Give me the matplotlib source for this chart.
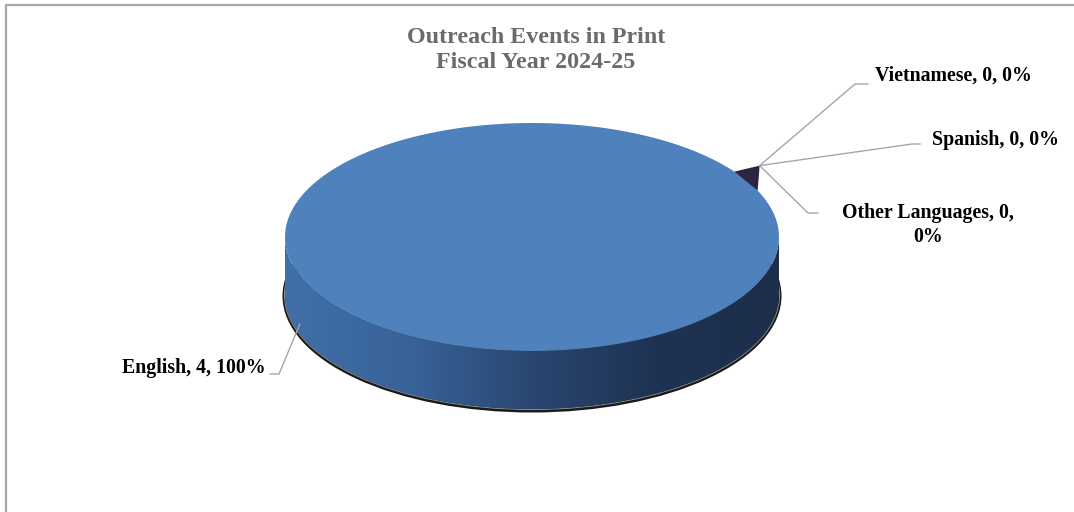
import matplotlib.pyplot as plt
import numpy as np
from matplotlib.patches import Polygon, Ellipse
from matplotlib.colors import LinearSegmentedColormap

# data
labels = ["English", "Spanish", "Vietnamese", "Other Languages"]
values = [4, 0, 0, 0]
title = "Outreach Events in Print\nFiscal Year 2024-25"

total = sum(values)
pcts = [v / total * 100 for v in values]

# geometry in pixel units (axes spans the whole figure)
W, H = 1074, 512
cx, cy = 532, 237
rx, ry = 247, 114
depth = 58
start_deg = 24  # angle where the first slice starts (counter-clockwise, screen up)

fig = plt.figure(figsize=(W / 100, H / 100), dpi=100)
ax = fig.add_axes([0, 0, 1, 1])
ax.set_xlim(0, W)
ax.set_ylim(H, 0)
ax.axis("off")

# chart frame (left and top edges visible)
ax.plot([6, 6, W + 5], [H + 5, 5, 5], color="#a6a6a6", lw=1.6, zorder=1)

def rim(t, dy=0.0):
    return cx + rx * np.cos(t), cy - ry * np.sin(t) + dy

# shadow beneath the pie
ax.add_patch(Ellipse((cx, cy + depth + 1), 2 * rx + 5, 2 * ry + 5,
                     facecolor="#1a1a1a", edgecolor="none", zorder=2))
ax.add_patch(Ellipse((cx, cy + depth), 2 * rx + 1, 2 * ry + 1,
                     facecolor="none", edgecolor="#8a8a8a", lw=0.8, zorder=2.5))

# side wall with horizontal gradient
t = np.linspace(np.pi, 2 * np.pi, 300)
ux, uy = rim(t)
lx, ly = rim(t[::-1], depth)
side = Polygon(np.column_stack([np.r_[ux, lx], np.r_[uy, ly]]), closed=True,
               facecolor="none", edgecolor="none", zorder=3)
ax.add_patch(side)
cmap = LinearSegmentedColormap.from_list("side", ["#416fa8", "#38639a", "#2a4670", "#1e3353", "#1c2e4a"])
grad = np.linspace(0, 1, 256).reshape(1, -1)
img = ax.imshow(grad, cmap=cmap, extent=[cx - rx, cx + rx, cy + ry + depth + 2, cy - 2],
                aspect="auto", zorder=3, interpolation="bicubic")
img.set_clip_path(side)

# top face (slices)
fracs = np.array(values) / total
angles = start_deg + np.r_[0, np.cumsum(fracs)] * 360
top_colors = ["#4f81bd", "#c0504d", "#9bbb59", "#8064a2"]
for i, v in enumerate(values):
    if v <= 0:
        continue
    a = np.radians(np.linspace(angles[i], angles[i + 1], 400))
    px, py = rim(a)
    ax.add_patch(Polygon(np.column_stack([np.r_[cx, px], np.r_[cy, py]]), closed=True,
                         facecolor=top_colors[i], edgecolor="none", zorder=4))

# cut face of the slice poking out above the rim
a_hi = np.array(rim(np.radians(start_deg + 11)))
a_lo = np.array(rim(np.radians(start_deg)))
apex = np.array([a_lo[0] + 2, a_hi[1] - 6])
ax.add_patch(Polygon([a_hi, apex, a_lo], closed=True,
                     facecolor="#2c2440", edgecolor="none", zorder=5))

# labels with leader lines
lc = "#a6a6a6"
font = dict(family="Liberation Serif", weight="bold", fontsize=14.3, color="black")

# English
ex, ey = rim(np.radians(200), 48)
ax.plot([270, 279, ex], [374, 374, ey], color=lc, lw=1, zorder=6)
ax.text(266, 368, f"{labels[0]}, {values[0]}, {pcts[0]:.0f}%", ha="right", va="center", **font)

# zero slices all point at the cut
ax.plot([apex[0], 855, 868], [apex[1], 84, 84], color=lc, lw=1, zorder=6)
ax.text(875, 76, f"{labels[2]}, {values[2]}, {pcts[2]:.0f}%", ha="left", va="center", **font)

ax.plot([apex[0], 912, 920], [apex[1], 144, 144], color=lc, lw=1, zorder=6)
ax.text(932, 140, f"{labels[1]}, {values[1]}, {pcts[1]:.0f}%", ha="left", va="center", **font)

ax.plot([apex[0], 808, 818], [apex[1], 213, 213], color=lc, lw=1, zorder=6)
ax.text(928, 225, f"{labels[3]}, {values[3]},\n{pcts[3]:.0f}%", ha="center", va="center",
        linespacing=1.25, **font)

ax.text(536, 50, title, ha="center", va="center", family="Liberation Serif", weight="bold",
        fontsize=17.3, color="#6b6b6b", linespacing=1.25)

fig.savefig("out.png", dpi=100, facecolor="white")
